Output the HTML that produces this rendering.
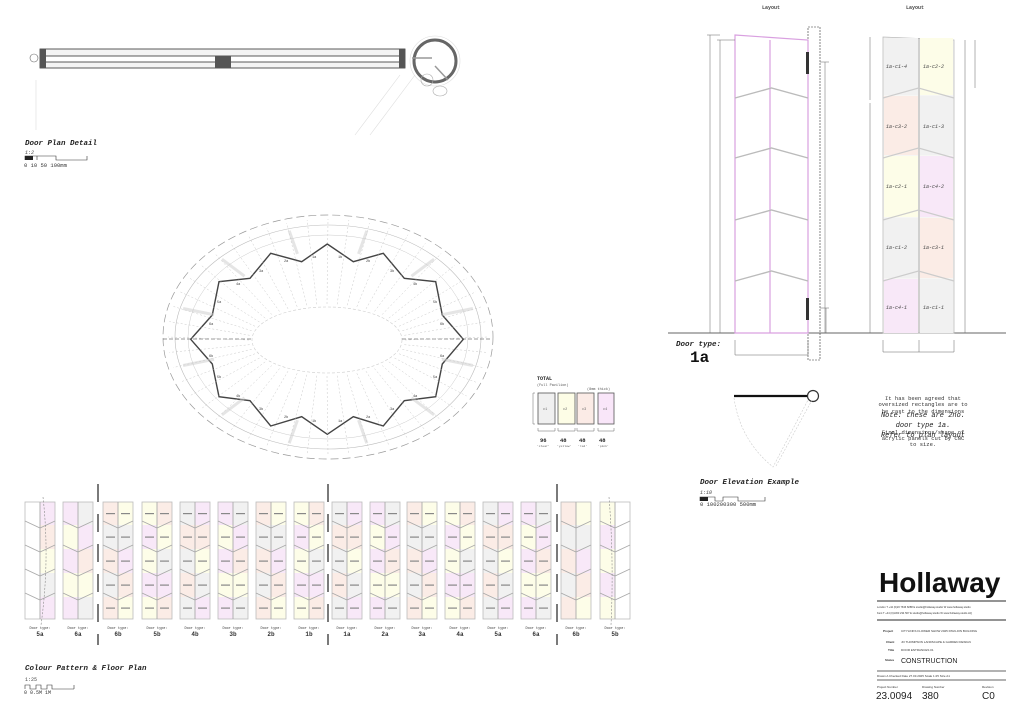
<!DOCTYPE html>
<html><head><meta charset="utf-8"><style>
html,body{margin:0;padding:0;background:#fff;width:1024px;height:721px;overflow:hidden}
svg{display:block}
.m{font-family:"Liberation Mono",monospace}
.t{font-family:"Liberation Mono",monospace;font-weight:bold;font-style:italic}
.s{font-family:"Liberation Sans",sans-serif}
</style></head><body>
<svg id="sv" width="1024" height="721" viewBox="0 0 1024 721" xmlns="http://www.w3.org/2000/svg">
<rect width="1024" height="721" fill="#fff"/>
<!-- Door plan detail -->
<g>
<line x1="36" y1="80" x2="36" y2="130" stroke="#ddd" stroke-width="0.6"/>
<line x1="355" y1="135" x2="400" y2="75" stroke="#ddd" stroke-width="0.6"/>
<line x1="370" y1="135" x2="415" y2="75" stroke="#ddd" stroke-width="0.6"/>
<rect x="40" y="49" width="365" height="19" fill="#f4f4f4" stroke="#333" stroke-width="0.8"/>
<rect x="44" y="56" width="357" height="6" fill="#fff" stroke="#333" stroke-width="0.8"/>
<rect x="40" y="49" width="6" height="19" fill="#555"/>
<rect x="399" y="49" width="6" height="19" fill="#555"/>
<rect x="215" y="56" width="16" height="12" fill="#555"/>
<circle cx="34" cy="58" r="4" fill="#fff" stroke="#666" stroke-width="0.6"/>
<circle cx="435" cy="61" r="21" fill="none" stroke="#666" stroke-width="3"/>
<circle cx="435" cy="61" r="25" fill="none" stroke="#ddd" stroke-width="0.6"/>
<circle cx="427" cy="80" r="6" fill="none" stroke="#aaa" stroke-width="0.6"/>
<ellipse cx="440" cy="91" rx="7" ry="5" fill="none" stroke="#aaa" stroke-width="0.6"/>
<line x1="412" y1="58" x2="432" y2="58" stroke="#999" stroke-width="1.5"/>
<line x1="435" y1="66" x2="448" y2="80" stroke="#999" stroke-width="1.5"/>
<text x="25" y="145" class="t" font-size="7.5" fill="#222">Door Plan Detail</text>
<text x="25" y="154" class="m" font-size="5" font-style="italic" fill="#444">1:2</text>
<path d="M25 160 V156 H37 V160 M37 160 V156 H56 V160 H87 V156" fill="none" stroke="#333" stroke-width="0.6"/>
<rect x="25" y="156" width="8" height="4" fill="#222"/>
<text x="24" y="167" class="m" font-size="5.5" fill="#333">0  10  50   100mm</text>
</g>
<!-- Oval floor plan -->
<g id="oval" fill="none">
<ellipse cx="328" cy="337" rx="165" ry="122" stroke="#999" stroke-width="0.7" stroke-dasharray="8 4"/>
<ellipse cx="328" cy="337" rx="153" ry="112" stroke="#bbb" stroke-width="0.6"/>
<ellipse cx="328" cy="337" rx="140" ry="102" stroke="#ccc" stroke-width="0.5"/>
<ellipse cx="327" cy="340" rx="75" ry="33" stroke="#ccc" stroke-width="0.6" stroke-dasharray="3 2"/>
<line x1="163" y1="339" x2="252" y2="339" stroke="#333" stroke-width="0.6" stroke-dasharray="4 2"/>
<line x1="402" y1="339" x2="492" y2="339" stroke="#333" stroke-width="0.6" stroke-dasharray="4 2"/>
<polygon points="327.3,244 301.7,261.7 270.7,253.3 250,278.3 219,281.7 212.3,315 190.7,339.3 212.3,364 219,396.7 250,400.7 270.7,426 301.7,416.7 327.3,434.3 353.3,416.7 383.3,426 404.3,400.7 435.7,396.7 442.3,364 463.3,339.3 442.3,315 435.7,281.7 404.3,278.3 383.3,253.3 353.3,261.7" stroke="#444" stroke-width="1.4"/>
</g>
<g class="m" font-size="3.5" fill="#444">
<text x="284" y="262">2a</text><text x="312" y="258">1a</text><text x="338" y="258">1b</text><text x="366" y="262">2b</text>
<text x="259" y="272">3a</text><text x="390" y="272">3b</text><text x="236" y="285">4a</text><text x="413" y="285">4b</text>
<text x="217" y="303">5a</text><text x="433" y="303">5b</text><text x="209" y="325">6a</text><text x="440" y="325">6b</text>
<text x="209" y="357">6b</text><text x="440" y="357">6a</text><text x="217" y="378">5b</text><text x="433" y="378">5a</text>
<text x="236" y="397">4b</text><text x="413" y="397">4a</text><text x="259" y="410">3b</text><text x="390" y="410">3a</text>
<text x="284" y="418">2b</text><text x="312" y="422">1b</text><text x="338" y="422">1a</text><text x="366" y="418">2a</text>
</g>
<!-- Legend -->
<g>
<text x="537" y="380" class="m" font-size="5" font-weight="bold" fill="#222">TOTAL</text>
<text x="537" y="386" class="m" font-size="3.5" fill="#555">(Full Pavilion)</text>
<text x="587" y="390" class="m" font-size="3.5" fill="#555">(8mm thick)</text>
<path d="M535 393 H533 V424 H535" fill="none" stroke="#666" stroke-width="0.5"/>
<rect x="538" y="393" width="17" height="31" fill="#f0f0f0" stroke="#555" stroke-width="0.8"/>
<rect x="558" y="393" width="17" height="31" fill="#fdfde6" stroke="#555" stroke-width="0.8"/>
<rect x="577" y="393" width="17" height="31" fill="#fbebe6" stroke="#555" stroke-width="0.8"/>
<rect x="598" y="393" width="16" height="31" fill="#f9e6f9" stroke="#555" stroke-width="0.8"/>
<g class="m" font-size="3.5" fill="#666"><text x="543" y="410">c1</text><text x="563" y="410">c2</text><text x="582" y="410">c3</text><text x="603" y="410">c4</text></g>
<path d="M538 428 V431 H555 V428 M558 428 V431 H575 V428 M577 428 V431 H594 V428 M598 428 V431 H614 V428" fill="none" stroke="#666" stroke-width="0.5"/>
<g class="m" font-size="5.5" font-weight="bold" fill="#222"><text x="540" y="442">96</text><text x="560" y="442">48</text><text x="579" y="442">48</text><text x="599" y="442">48</text></g>
<g class="m" font-size="3" fill="#555"><text x="537" y="447">'clear'</text><text x="557" y="447">'yellow'</text><text x="578" y="447">'red'</text><text x="598" y="447">'pink'</text></g>
</g>
<!-- Elevation -->
<g>
<text x="762" y="9" class="m" font-size="5" font-weight="bold" fill="#444">Layout</text>
<text x="906" y="9" class="m" font-size="5" font-weight="bold" fill="#444">Layout</text>
<line x1="668" y1="333" x2="1006" y2="333" stroke="#333" stroke-width="0.8"/>
<rect x="808" y="27" width="12" height="333" fill="none" stroke="#333" stroke-width="0.6" stroke-dasharray="2 1"/>
<polygon points="735,35 808,40 808,333 735,333" fill="none" stroke="#d9a0e0" stroke-width="1.2"/>
<line x1="770" y1="40" x2="770" y2="333" stroke="#d9a0e0" stroke-width="1.2"/>
<rect x="806" y="52" width="3" height="22" fill="#333"/>
<rect x="806" y="298" width="3" height="22" fill="#333"/>
<path d="M710 35 V333 M720 40 V333 M825 62 V333 M826 308 V333 M735 340 V355 H808 V340 M883 340 V352 H954 V340 M919 340 V352" fill="none" stroke="#666" stroke-width="0.5"/>
<path d="M707 35 H720 M717 40 H735 M820 62 H829 M820 308 H829" stroke="#666" stroke-width="0.5"/>
<polygon points="883,37 954,40 954,333 883,333" fill="#f6f6f4" stroke="#bbb" stroke-width="0.8"/>
<line x1="919" y1="38" x2="919" y2="333" stroke="#aaa" stroke-width="1"/>
<path d="M870 37 V100 M870 103 V333 M965 40 V90 M965 90 V333 M975 40 V88" fill="none" stroke="#666" stroke-width="0.5"/>
<text x="676" y="346" class="t" font-size="7.5" fill="#222">Door type:</text>
<text x="690" y="362" class="m" font-size="16" font-weight="bold" fill="#111">1a</text>
</g>
<g class="m" font-size="5" font-style="italic" fill="#444">
<text x="886" y="68">1a-c1-4</text><text x="923" y="68">1a-c2-2</text>
<text x="886" y="128">1a-c3-2</text><text x="923" y="128">1a-c1-3</text>
<text x="886" y="188">1a-c2-1</text><text x="923" y="188">1a-c4-2</text>
<text x="886" y="249">1a-c1-2</text><text x="923" y="249">1a-c3-1</text>
<text x="886" y="309">1a-c4-1</text><text x="923" y="309">1a-c1-1</text>
</g>
<!-- Door elevation example -->
<g>
<line x1="734" y1="396" x2="808" y2="396" stroke="#111" stroke-width="2.2"/>
<circle cx="813" cy="396" r="5.5" fill="#fff" stroke="#333" stroke-width="1.2"/>
<path d="M734 398 Q740 440 773 467 L808 400 M776 466 L812 400" fill="none" stroke="#ccc" stroke-width="0.6" stroke-dasharray="2 1.5"/>
<text x="700" y="484" class="t" font-size="7.5" fill="#222">Door Elevation Example</text>
<text x="700" y="494" class="m" font-size="5" font-style="italic" fill="#444">1:10</text>
<path d="M700 501 V497 H715 V501 H723 V497 H738 V501 H765 V497" fill="none" stroke="#333" stroke-width="0.6"/>
<rect x="700" y="497" width="8" height="4" fill="#222"/>
<text x="700" y="506" class="m" font-size="5.5" fill="#333">0 100200300  500mm</text>
</g>
<g class="m" font-size="5.5" fill="#333" text-anchor="middle">
<text x="923" y="400">It has been agreed that</text>
<text x="923" y="406">oversized rectangles are to</text>
<text x="923" y="413">be cast to the dimensions</text>
<text x="923" y="434">Final dimensions/shape of</text>
<text x="923" y="440">acrylic panels cut by CNC</text>
<text x="923" y="446">to size.</text>
</g>
<g class="m" font-size="7" font-style="italic" fill="#222" text-anchor="middle">
<text x="923" y="417">Note: these are 2no.</text>
<text x="923" y="427">door type 1a.</text>
<text x="923" y="437">Refer to plan layout</text>
</g>
<!-- Bottom strip -->
<g id="strip"></g>
<g class="m" fill="#333" text-anchor="middle" id="labels"></g>
<path d="M98 484 V645 M328 484 V645 M557 484 V645" stroke="#222" stroke-width="1.2" stroke-dasharray="18 12"/>
<text x="25" y="670" class="t" font-size="7.5" fill="#222">Colour Pattern &amp; Floor Plan</text>
<text x="25" y="681" class="m" font-size="5" fill="#444">1:25</text>
<path d="M25 689 V685 H30 V689 H36 V685 H41 V689 H47 V685 H52 V689 H74" fill="none" stroke="#333" stroke-width="0.6"/>
<line x1="74" y1="685" x2="74" y2="689" stroke="#333" stroke-width="0.6"/>
<text x="24" y="694" class="m" font-size="5" fill="#333">0     0.5M    1M</text>
<!-- Title block -->
<g>
<text x="879" y="592" class="s" font-size="28" font-weight="bold" fill="#111">Hollaway</text>
<line x1="877" y1="601" x2="1006" y2="601" stroke="#555" stroke-width="1.2"/>
<text x="877" y="608" class="s" font-size="2.6" fill="#333">London   T +44 (0)20 7636 8288   E studio@hollaway.studio   W www.hollaway.studio</text>
<text x="877" y="614" class="s" font-size="2.6" fill="#333">Kent   T +44 (0)1303 234 567   E studio@hollaway.studio   W www.hollaway.studio   HQ</text>
<line x1="877" y1="620" x2="1006" y2="620" stroke="#555" stroke-width="1.2"/>
<g class="s" font-size="3" fill="#333">
<text x="883" y="632" font-weight="bold">Project</text><text x="901" y="632">CITYLINKS FLOWER SHOW 2025 PAVILION BUILDING</text>
<text x="886" y="643" font-weight="bold">Client</text><text x="901" y="643">JO THOMPSON LANDSCAPE &amp; GARDEN DESIGN</text>
<text x="888" y="651" font-weight="bold">Title</text><text x="901" y="651">DOOR ENTRANCES 01</text>
<text x="885" y="661" font-weight="bold">Status</text>
<text x="877" y="677">Drawn A   Checked   Date 27.03.2025   Scale 1:25   Size A1</text>
<text x="877" y="688">Project Number</text><text x="922" y="688">Drawing Number</text><text x="982" y="688">Revision</text>
</g>
<text x="901" y="663" class="s" font-size="7" fill="#222">CONSTRUCTION</text>
<line x1="877" y1="671" x2="1006" y2="671" stroke="#333" stroke-width="0.7"/>
<line x1="877" y1="680" x2="1006" y2="680" stroke="#333" stroke-width="0.7"/>
<text x="876" y="699" class="s" font-size="10" fill="#222">23.0094</text>
<text x="922" y="699" class="s" font-size="10" fill="#222">380</text>
<text x="982" y="699" class="s" font-size="10" fill="#222">C0</text>
</g>
</svg>
<script>
(function(){
var NS="http://www.w3.org/2000/svg";
function el(p,t,a){var e=document.createElementNS(NS,t);for(var k in a)e.setAttribute(k,a[k]);p.appendChild(e);return e;}
var sv=document.getElementById('sv');
var ov=document.getElementById('oval');
for(var i=0;i<48;i++){var a=i/48*Math.PI*2;var c=Math.cos(a),s=Math.sin(a);
el(ov,'line',{x1:327+78*c,y1:340+36*s,x2:328+160*c,y2:337+118*s,stroke:'#bbb','stroke-width':0.4,'stroke-dasharray':'2 2'});}
for(var i=0;i<12;i++){var a=(i+0.5)/12*Math.PI*2;var c=Math.cos(a),s=Math.sin(a);
el(ov,'line',{x1:328+118*c,y1:337+86*s,x2:328+150*c,y2:337+110*s,stroke:'#ccc','stroke-width':3,'stroke-opacity':0.5});}
function chev(g,x0,x1,ys,col,w){var xc=(x0+x1)/2;ys.forEach(function(y){el(g,'polyline',{points:x0+','+(y+10)+' '+xc+','+y+' '+x1+','+(y+10),fill:'none',stroke:col,'stroke-width':w});});}
chev(sv,735,808,[88,148,210,271],'#bbb',1.4);
var cf=['#f1f1f1','#fdfde8','#fbece6','#f8e8f8'];
var rp=document.createElementNS(NS,'g');sv.insertBefore(rp,sv.querySelector('text[x="886"]').parentNode);
var rc=[[0,1],[2,0],[1,3],[0,2],[3,0]];var yb=[37,95,155,217,278,333];
for(var r=0;r<5;r++){el(rp,'rect',{x:884,y:yb[r]+1,width:34,height:yb[r+1]-yb[r]-1,fill:cf[rc[r][0]]});el(rp,'rect',{x:920,y:yb[r]+1,width:33,height:yb[r+1]-yb[r]-1,fill:cf[rc[r][1]]});}
chev(rp,883,954,[88,148,210,271],'#ccc',1.2);
var st=document.getElementById('strip'),lb=document.getElementById('labels');
var xs=[25,63,103,142,180,218,256,294,332,370,407,445,483,521,561,600];
var nm=['5a','6a','6b','5b','4b','3b','2b','1b','1a','2a','3a','4a','5a','6a','6b','5b'];
var ys=[502,525,549,573,597,619];
xs.forEach(function(x,i){
 var w=30,h=15;
 for(var r=0;r<5;r++){for(var c=0;c<2;c++){
   var col=cf[(i*3+r*2+c*(i%2?1:3)+(r*c))%4];
   if((i==0&&c==0)||(i==15&&c==1))col='#fff';
   el(st,'rect',{x:x+c*h,y:ys[r],width:h,height:ys[r+1]-ys[r],fill:col});
   if(i>1&&i<14){el(st,'rect',{x:x+c*h+3,y:(ys[r]+ys[r+1])/2-0.5,width:9,height:1.2,fill:'#888'});}
 }}
 el(st,'rect',{x:x,y:502,width:w,height:117,fill:'none',stroke:'#bbb','stroke-width':0.8});
 el(st,'line',{x1:x+15,y1:502,x2:x+15,y2:619,stroke:'#aaa','stroke-width':0.9});
 for(var r=1;r<5;r++){el(st,'polyline',{points:x+','+(ys[r]-4)+' '+(x+15)+','+(ys[r]+3)+' '+(x+30)+','+(ys[r]-4),fill:'none',stroke:'#aaa','stroke-width':0.9});}
 var t=el(lb,'text',{x:x+15,y:629,'font-size':3.5});t.textContent='Door type:';
 var t2=el(lb,'text',{x:x+15,y:636,'font-size':6,'font-weight':'bold'});t2.textContent=nm[i];
});
el(st,'path',{d:'M43 497 Q50 560 41 625',fill:'none',stroke:'#888','stroke-width':0.6,'stroke-dasharray':'2 1.5'});
el(st,'path',{d:'M609 497 Q614 560 611 625',fill:'none',stroke:'#888','stroke-width':0.6,'stroke-dasharray':'2 1.5'});
})();
</script>
</body></html>
